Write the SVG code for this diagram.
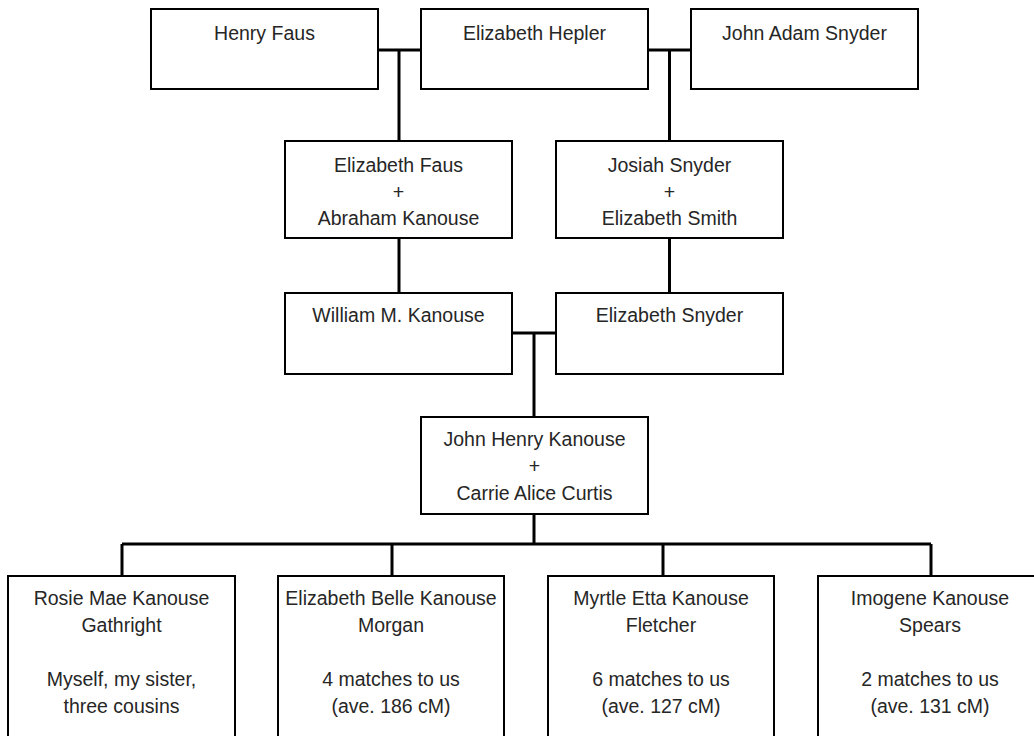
<svg xmlns="http://www.w3.org/2000/svg" width="1034" height="736" viewBox="0 0 1034 736">
<style>
.box{fill:#fff;stroke:#000;stroke-width:2}
.con{fill:none;stroke:#000;stroke-width:3}
text{font-family:"Liberation Sans",Arial,sans-serif;font-size:19.5px;fill:#262626;text-anchor:middle}
</style>
<rect width="1034" height="736" fill="#fff"/>
<g id="connectors">
<path class="con" d="M378 50H421M399 50V141"/>
<path class="con" d="M648 50H691M669.5 50V141"/>
<path class="con" d="M399 238V293"/>
<path class="con" d="M669.5 238V293"/>
<path class="con" d="M512 333H556M534 333V417"/>
<path class="con" d="M534 514V544M122 544H931M122 544V576M392 544V576M663 544V576M931 544V576"/>
</g>
<g id="henry-faus"><rect class="box" x="151" y="9" width="227" height="80"/><text x="264.5" y="40">Henry Faus</text></g>
<g id="elizabeth-hepler"><rect class="box" x="421" y="9" width="227" height="80"/><text x="534.5" y="40">Elizabeth Hepler</text></g>
<g id="john-adam-snyder"><rect class="box" x="691" y="9" width="227" height="80"/><text x="804.5" y="40">John Adam Snyder</text></g>
<g id="elizabeth-faus"><rect class="box" x="285" y="141" width="227" height="97"/><text x="398.5" y="172">Elizabeth Faus</text><text x="398.5" y="198.5">+</text><text x="398.5" y="225">Abraham Kanouse</text></g>
<g id="josiah-snyder"><rect class="box" x="556" y="141" width="227" height="97"/><text x="669.5" y="172">Josiah Snyder</text><text x="669.5" y="198.5">+</text><text x="669.5" y="225">Elizabeth Smith</text></g>
<g id="william-kanouse"><rect class="box" x="285" y="293" width="227" height="81"/><text x="398.5" y="322">William M. Kanouse</text></g>
<g id="elizabeth-snyder"><rect class="box" x="556" y="293" width="227" height="81"/><text x="669.5" y="322">Elizabeth Snyder</text></g>
<g id="john-henry-kanouse"><rect class="box" x="421" y="417" width="227" height="97"/><text x="534.5" y="446">John Henry Kanouse</text><text x="534.5" y="473">+</text><text x="534.5" y="500">Carrie Alice Curtis</text></g>
<g id="rosie"><rect class="box" x="8" y="576" width="227" height="180"/><text x="121.5" y="605">Rosie Mae Kanouse</text><text x="121.5" y="632">Gathright</text><text x="121.5" y="686">Myself, my sister,</text><text x="121.5" y="713">three cousins</text></g>
<g id="elizabeth-belle"><rect class="box" x="278" y="576" width="226" height="180"/><text x="391" y="605">Elizabeth Belle Kanouse</text><text x="391" y="632">Morgan</text><text x="391" y="686">4 matches to us</text><text x="391" y="713">(ave. 186 cM)</text></g>
<g id="myrtle"><rect class="box" x="548" y="576" width="226" height="180"/><text x="661" y="605">Myrtle Etta Kanouse</text><text x="661" y="632">Fletcher</text><text x="661" y="686">6 matches to us</text><text x="661" y="713">(ave. 127 cM)</text></g>
<g id="imogene"><rect class="box" x="818" y="576" width="226" height="180"/><text x="930" y="605">Imogene Kanouse</text><text x="930" y="632">Spears</text><text x="930" y="686">2 matches to us</text><text x="930" y="713">(ave. 131 cM)</text></g>
</svg>
